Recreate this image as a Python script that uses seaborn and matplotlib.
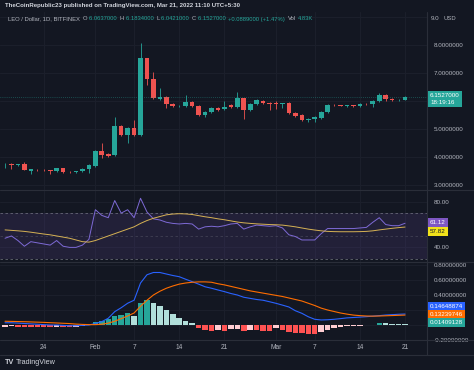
import matplotlib
matplotlib.use("Agg")
import matplotlib.pyplot as plt
import numpy as np
import pandas as pd
import seaborn as sns

# LEO / Dollar daily candles, Jan 18 - Mar 21 2022 (63 days)
opens = [3.72, 3.76, 3.72, 3.76, 3.50, 3.57, 3.55, 3.54, 3.50, 3.61, 3.48, 3.47, 3.51, 3.60,
         3.70, 4.24, 4.12, 4.09, 5.12, 4.80, 5.04, 4.80, 7.54, 6.79, 6.10, 6.17, 5.92, 5.84,
         5.85, 5.98, 5.84, 5.52, 5.63, 5.78, 5.72, 5.87, 5.81, 6.11, 5.70, 5.91, 6.03, 5.94,
         5.93, 5.92, 5.94, 5.58, 5.52, 5.34, 5.36, 5.40, 5.64, 5.88, 5.86, 5.85, 5.86, 5.83,
         5.91, 5.90, 6.00, 6.23, 6.08, 6.05, 6.0637]
highs = [3.80, 3.79, 3.78, 3.85, 3.60, 3.60, 3.58, 3.57, 3.63, 3.63, 3.52, 3.52, 3.63, 3.76,
         4.26, 4.51, 4.16, 5.45, 5.15, 5.08, 5.34, 8.10, 7.56, 7.06, 6.47, 6.20, 5.96, 5.88,
         6.23, 6.02, 5.86, 5.66, 5.80, 5.82, 6.03, 5.90, 6.35, 6.14, 5.94, 6.08, 6.06, 5.98,
         6.03, 5.95, 5.97, 5.62, 5.55, 5.40, 5.48, 5.66, 5.90, 5.90, 5.89, 5.88, 5.88, 5.94,
         5.94, 6.05, 6.30, 6.26, 6.12, 6.09, 6.1834]
lows = [3.62, 3.58, 3.70, 3.55, 3.42, 3.53, 3.50, 3.42, 3.48, 3.46, 3.45, 3.45, 3.49, 3.45,
        3.66, 3.97, 4.00, 4.05, 4.75, 4.51, 4.78, 4.78, 6.59, 6.08, 6.05, 5.77, 5.80, 5.80,
        5.82, 5.82, 5.48, 5.46, 5.60, 5.66, 5.70, 5.78, 5.78, 5.36, 5.66, 5.88, 5.90, 5.70,
        5.72, 5.76, 5.55, 5.44, 5.30, 5.28, 5.25, 5.36, 5.60, 5.83, 5.83, 5.82, 5.82, 5.80,
        5.87, 5.82, 5.98, 6.02, 6.02, 6.02, 6.0421]
closes = [3.74, 3.72, 3.76, 3.56, 3.58, 3.55, 3.54, 3.50, 3.61, 3.48, 3.47, 3.51, 3.60, 3.73,
          4.24, 4.10, 4.05, 5.12, 4.80, 5.04, 4.80, 7.54, 6.79, 6.11, 6.17, 5.90, 5.84, 5.85,
          5.98, 5.84, 5.52, 5.63, 5.76, 5.70, 5.81, 5.81, 6.11, 5.70, 5.91, 6.05, 5.94, 5.90,
          5.92, 5.93, 5.58, 5.48, 5.34, 5.36, 5.44, 5.64, 5.88, 5.86, 5.85, 5.86, 5.84, 5.91,
          5.90, 6.03, 6.23, 6.08, 6.05, 6.07, 6.1527]

rsi = [48, 50, 46, 41, 45, 44, 43, 42, 46, 41, 40, 40, 42, 47, 73, 68, 66, 81, 70, 73, 66,
       83, 71, 65, 64, 62, 61, 60.5, 61, 60.5, 56, 58, 58.5, 58, 59, 60.5, 61, 56, 58, 59.5,
       59, 58.5, 59, 57, 51, 49.5, 46.5, 46.5, 46.5, 52, 56.5, 56.5, 56.5, 56.5, 56.5, 57,
       57.5, 62, 66, 60, 59, 59, 61.12]
rsi_ma = [55.3, 54.9, 54.5, 54.0, 53.3, 52.5, 51.7, 51.0, 50.0, 49.0, 48.0, 46.5, 45.0, 44.6,
          46.0, 48.0, 50.0, 52.0, 54.0, 56.0, 58.0, 61.0, 63.5, 65.5, 67.0, 68.5, 69.2, 69.5,
          69.3, 68.8, 67.8, 66.8, 66.0, 65.0, 64.2, 63.2, 62.2, 61.5, 61.0, 60.6, 60.3, 60.0,
          59.8, 59.5, 58.8, 58.0, 57.0, 56.0, 55.2, 54.5, 54.0, 53.8, 53.7, 53.7, 53.7, 53.8,
          54.0, 54.5, 55.3, 56.0, 56.7, 57.3, 57.82]

macd = [0.03, 0.03, 0.025, 0.02, 0.015, 0.01, 0.005, 0.0, 0.0, -0.005, -0.01, -0.01, -0.005,
        0.0, 0.02, 0.045, 0.09, 0.178, 0.23, 0.29, 0.33, 0.56, 0.67, 0.70, 0.70, 0.68, 0.66,
        0.644, 0.61, 0.578, 0.545, 0.51, 0.49, 0.467, 0.445, 0.42, 0.40, 0.37, 0.355, 0.34,
        0.33, 0.31, 0.289, 0.265, 0.24, 0.19, 0.156, 0.11, 0.076, 0.067, 0.07, 0.076, 0.085,
        0.095, 0.10, 0.105, 0.111, 0.118, 0.125, 0.133, 0.138, 0.143, 0.14648874]
signal = [0.05, 0.048, 0.046, 0.044, 0.041, 0.038, 0.035, 0.031, 0.027, 0.023, 0.019, 0.012,
          0.008, 0.005, 0.005, 0.01, 0.025, 0.05, 0.085, 0.12, 0.16, 0.25, 0.33, 0.40, 0.45,
          0.49, 0.52, 0.545, 0.56, 0.57, 0.575, 0.575, 0.57, 0.55, 0.535, 0.515, 0.495, 0.475,
          0.455, 0.44, 0.425, 0.41, 0.395, 0.38, 0.36, 0.34, 0.32, 0.29, 0.26, 0.225, 0.20,
          0.18, 0.16, 0.145, 0.132, 0.125, 0.12, 0.118, 0.12, 0.123, 0.126, 0.129, 0.13239746]
hist = [-0.02, -0.018, -0.022, -0.025, -0.027, -0.028, -0.03, -0.031, -0.025, -0.027, -0.029,
        -0.02, -0.012, 0.01, 0.04, 0.06, 0.08, 0.12, 0.14, 0.16, 0.12, 0.30, 0.34, 0.30, 0.25,
        0.20, 0.15, 0.10, 0.06, 0.025, -0.044, -0.067, -0.076, -0.07, -0.076, -0.058, -0.05,
        -0.076, -0.07, -0.072, -0.074, -0.078, -0.044, -0.06, -0.089, -0.102, -0.111, -0.12,
        -0.125, -0.089, -0.067, -0.044, -0.031, -0.018, -0.012, -0.009, -0.004, 0.002, 0.031,
        0.022, 0.018, 0.015, 0.01409128]

tick_days = [6, 14, 20, 27, 34, 42, 48, 55, 62]
tick_labels = ["24", "Feb", "7", "14", "21", "Mar", "7", "14", "21"]

BG = "#131722"
GRID = "#1c202c"
TXT = "#b2b5be"
UP, DOWN = "#26a69a", "#ef5350"

sns.set_theme(style="dark", rc={"axes.facecolor": BG, "figure.facecolor": BG})
plt.rcParams["font.family"] = ["Liberation Sans", "DejaVu Sans"]

df = pd.DataFrame({"day": np.arange(len(closes)), "open": opens, "high": highs,
                   "low": lows, "close": closes, "rsi": rsi, "rsi_ma": rsi_ma,
                   "macd": macd, "signal": signal, "hist": hist})

W, H = 474, 370
fig = plt.figure(figsize=(W / 100, H / 100), dpi=100)
fig.patch.set_facecolor(BG)


def panel(top, bottom, right=427):
    ax = fig.add_axes([0, 1 - bottom / H, right / W, (bottom - top) / H])
    ax.set_facecolor(BG)
    for s in ax.spines.values():
        s.set_visible(False)
    ax.set_xlim(-0.78, 65.4)
    ax.set_xticks(tick_days)
    ax.grid(True, color=GRID, linewidth=0.7)
    ax.yaxis.tick_right()
    ax.tick_params(axis="y", length=0, pad=5, labelsize=4.5, labelcolor=TXT)
    ax.tick_params(axis="x", length=0, labelbottom=False)
    return ax


# price panel
ax_p = panel(12, 190)
ax_p.set_ylim(2.839, 9.196)
pt = [3, 4, 5, 6, 7, 8, 9]
ax_p.set_yticks(pt)
# 6.0 sits under the last-price tag, 9.0 under the currency button
ax_p.set_yticklabels(["" if v in (6, 9) else f"{v:.7f}" for v in pt])
up = df["close"] >= df["open"]
colors = np.where(up, UP, DOWN)
ax_p.vlines(df["day"], df["low"], df["high"], colors=colors, linewidth=0.6)
body = (df["close"] - df["open"]).abs().clip(lower=0.012)
ax_p.bar(df["day"], body, bottom=np.minimum(df["open"], df["close"]), width=0.72,
         color=colors, linewidth=0)
ax_p.axhline(closes[-1], color=UP, linewidth=0.5, linestyle=(0, (1, 2)), alpha=0.7)

# RSI panel
ax_r = panel(190, 262)
ax_r.set_ylim(27.2, 90.25)
ax_r.set_yticks([40, 80])
ax_r.set_yticklabels(["40.00", "80.00"])
ax_r.axhspan(30, 70, color="#7e57c2", alpha=0.14, linewidth=0)
for lvl, a in [(70, 0.8), (50, 0.35), (30, 0.8)]:
    ax_r.axhline(lvl, color="#787b86", linewidth=0.6, linestyle=(0, (3, 3)), alpha=a)
sns.lineplot(data=df, x="day", y="rsi", ax=ax_r, color="#7e6ad6", linewidth=0.7)
sns.lineplot(data=df, x="day", y="rsi_ma", ax=ax_r, color="#d6b254", linewidth=0.7)
ax_r.set_xlabel("")
ax_r.set_ylabel("")

# MACD panel
ax_m = panel(262, 340)
ax_m.set_ylim(-0.2, 0.84)
mt = [-0.2, 0.0, 0.2, 0.4, 0.6, 0.8]
ax_m.set_yticks(mt)
ax_m.set_yticklabels(["" if v in (0.0, 0.2) else f"{v:.8f}" for v in mt])
prev = [hist[0]] + hist[:-1]
hcol = []
for h, p in zip(hist, prev):
    if h >= 0:
        hcol.append("#26a69a" if h >= p else "#b2dfdb")
    else:
        hcol.append("#ff5252" if h < p else "#ffcdd2")
ax_m.bar(df["day"], df["hist"], width=0.85, color=hcol, linewidth=0)
sns.lineplot(data=df, x="day", y="macd", ax=ax_m, color="#2962ff", linewidth=0.8)
sns.lineplot(data=df, x="day", y="signal", ax=ax_m, color="#ff6d00", linewidth=0.8)
ax_m.set_xlabel("")
ax_m.set_ylabel("")
ax_m.tick_params(axis="x", labelbottom=True, pad=3, labelsize=4.8, labelcolor=TXT)
ax_m.set_xticklabels(tick_labels)

# separators
for yy in [190, 262, 340, 355]:
    fig.add_artist(plt.Line2D([0, 1], [1 - yy / H, 1 - yy / H], color="#2a2e39", linewidth=0.8))
fig.add_artist(plt.Line2D([427 / W, 427 / W], [1 - 355 / H, 1 - 12 / H], color="#2a2e39", linewidth=0.8))


def tag(y, s, fc, tc="white"):
    fig.text(430 / W, 1 - y / H, s, fontsize=4.5, color=tc, va="center", ha="left",
             bbox=dict(boxstyle="square,pad=0.3", fc=fc, ec="none"))


fig.text(430 / W, 1 - 99 / H, "6.1527000\n18:19:16", fontsize=4.5, color="white",
         va="center", ha="left", linespacing=1.3,
         bbox=dict(boxstyle="square,pad=0.35", fc=UP, ec="none"))
tag(222.7, "61.12", "#7e57c2")
tag(231.5, "57.82", "#f2e21a", "#131722")
tag(306.5, "0.14648874", "#2962ff")
tag(314.5, "0.13239746", "#ff6d00")
tag(322.5, "0.01409128", "#26a69a")

# header
fig.text(5 / W, 1 - 6 / H, "TheCoinRepublic23 published on TradingView.com, Mar 21, 2022 11:10 UTC+5:30",
         fontsize=4.4, color="#d1d4dc", fontweight="bold", va="center")
fig.text(431 / W, 1 - 18 / H, "9.0", fontsize=4.5, color=TXT, va="center")
fig.text(444 / W, 1 - 18 / H, "USD", fontsize=4.2, color=TXT, va="center")

segs = [("LEO / Dollar, 1D, BITFINEX ", TXT), ("O", TXT), ("6.0637000 ", UP), ("H", TXT),
        ("6.1834000 ", UP), ("L", TXT), ("6.0421000 ", UP), ("C", TXT), ("6.1527000 ", UP),
        ("+0.0889000 (+1.47%) ", UP), ("Vol", TXT), ("4.83K", UP)]
fig.canvas.draw()
renderer = fig.canvas.get_renderer()
x = 8
for s, c in segs:
    t = fig.text(x / W, 1 - 19 / H, s, fontsize=4.2, color=c, va="center")
    x = t.get_window_extent(renderer).x1 + 1.5

fig.text(5 / W, 1 - 362 / H, "TV", fontsize=5.2, color="#d1d4dc", fontweight="bold", va="center")
fig.text(16 / W, 1 - 362 / H, "TradingView", fontsize=5.2, color="#d1d4dc", va="center")

fig.savefig("out.png", dpi=100, facecolor=BG)
